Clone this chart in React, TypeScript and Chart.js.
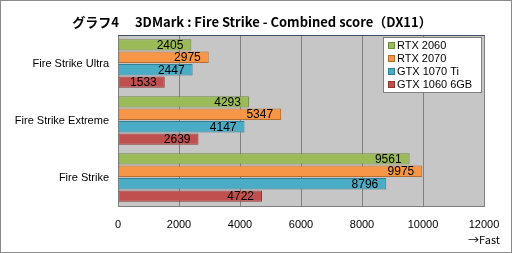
import React, { useEffect, useRef } from "react";
import { Chart, registerables } from "chart.js";

Chart.register(...registerables);

const categories = ["Fire Strike Ultra", "Fire Strike Extreme", "Fire Strike"];
const seriesNames = ["RTX 2060", "RTX 2070", "GTX 1070 Ti", "GTX 1060 6GB"];
const rtx2060 = [2405, 4293, 9561];
const rtx2070 = [2975, 5347, 9975];
const gtx1070ti = [2447, 4147, 8796];
const gtx1060 = [1533, 2639, 4722];
const xTicks = [0, 2000, 4000, 6000, 8000, 10000, 12000];
const titleText = "グラフ4\u3000 3DMark : Fire Strike - Combined score（DX11）";
const axisNote = "→Fast";

const fills = ["#9bbb59", "#f79646", "#4bacc6", "#c0504d"];
const borders = ["#71893f", "#b66d31", "#357d91", "#8c3836"];

const FONT = "'Liberation Sans', Arial, sans-serif";

export default function App() {
  const ref = useRef<HTMLCanvasElement>(null);
  useEffect(() => {
    const canvas = ref.current!;
    const values = [rtx2060, rtx2070, gtx1070ti, gtx1060];
    const frame = {
      id: "frame",
      beforeDraw(chart: any) {
        const { ctx, chartArea: a } = chart;
        ctx.save();
        ctx.fillStyle = "#ffffff";
        ctx.fillRect(0, 0, chart.width, chart.height);
        ctx.fillStyle = "#c6c6c6";
        ctx.fillRect(a.left, a.top, a.right - a.left, a.bottom - a.top);
        ctx.restore();
      },
      afterDraw(chart: any) {
        const { ctx, chartArea: a } = chart;
        ctx.save();
        ctx.strokeStyle = "#8a8a8a";
        ctx.lineWidth = 1;
        ctx.strokeRect(0.5, 0.5, chart.width - 1, chart.height - 1);
        ctx.strokeStyle = "#808080";
        ctx.strokeRect(Math.round(a.left) + 0.5, Math.round(a.top) + 0.5, Math.round(a.right - a.left), Math.round(a.bottom - a.top));
        ctx.strokeStyle = "#3f5266";
        ctx.beginPath();
        ctx.moveTo(Math.round(a.left), Math.round(a.top) + 0.5);
        ctx.lineTo(Math.round(a.right) + 1, Math.round(a.top) + 0.5);
        ctx.stroke();
        ctx.fillStyle = "#000";
        ctx.font = "bold 13px 'Noto Sans CJK JP', sans-serif";
        ctx.textAlign = "center";
        ctx.textBaseline = "middle";
        ctx.fillText(titleText, 252, 22);
        ctx.font = "11px 'Noto Sans CJK JP', sans-serif";
        ctx.textAlign = "right";
        ctx.fillText(axisNote, 500, 240);
        ctx.font = "12px " + FONT;
        ctx.textAlign = "right";
        ctx.textBaseline = "middle";
        chart.data.datasets.forEach((ds: any, i: number) => {
          const meta = chart.getDatasetMeta(i);
          meta.data.forEach((bar: any, j: number) => {
            ctx.fillText(String(ds.data[j]), bar.x - 8, bar.y + 0.5);
          });
        });
        const lx = 383, ly = 37, lw = 98, lh = 55;
        ctx.fillStyle = "#ffffff";
        ctx.fillRect(lx, ly, lw, lh);
        ctx.strokeStyle = "#808080";
        ctx.strokeRect(lx + 0.5, ly + 0.5, lw, lh);
        ctx.textAlign = "left";
        ctx.font = "11px " + FONT;
        seriesNames.forEach((name, i) => {
          const y = ly + 7.5 + i * 13.3;
          ctx.fillStyle = fills[i];
          ctx.fillRect(lx + 5, Math.round(y) - 3, 7, 7);
          ctx.strokeStyle = borders[i];
          ctx.strokeRect(lx + 5.5, Math.round(y) - 2.5, 6, 6);
          ctx.fillStyle = "#000";
          ctx.fillText(name, lx + 14, y + 1);
        });
        ctx.restore();
      },
    };
    const chart = new Chart(canvas, {
      type: "bar",
      data: {
        labels: categories,
        datasets: seriesNames.map((name, i) => ({
          label: name,
          data: values[i],
          backgroundColor: fills[i],
          borderColor: borders[i],
          borderWidth: 1,
          borderSkipped: false,
          barPercentage: 0.92,
          categoryPercentage: 0.87,
        })),
      },
      options: {
        indexAxis: "y",
        animation: false,
        responsive: false,
        maintainAspectRatio: false,
        layout: { padding: { top: 35, right: 28, left: 0, bottom: 0 } },
        plugins: {
          legend: { display: false },
          title: { display: false },
          tooltip: { enabled: false },
        },
        scales: {
          x: {
            min: 0,
            max: 12000,
            afterFit: (s: any) => { s.height = 47; },
            afterBuildTicks: (s: any) => { s.ticks = xTicks.map((v) => ({ value: v })); },
            grid: { color: "#808080", drawTicks: false, drawOnChartArea: true },
            border: { display: false },
            ticks: {
              color: "#000",
              font: { family: FONT, size: 11 },
              padding: 12,
              maxRotation: 0,
              callback: (v: any) => String(v),
            },
          },
          y: {
            afterFit: (s: any) => { s.width = 118; },
            grid: { display: false, drawTicks: false },
            border: { display: false },
            ticks: { color: "#000", font: { family: FONT, size: 11 }, padding: 9 },
          },
        },
      },
      plugins: [frame],
    } as any);
    return () => chart.destroy();
  }, []);
  return (
    <div style={{ position: "fixed", left: 0, top: 0, width: 512, height: 253 }}>
      <canvas ref={ref} width={512} height={253} style={{ width: 512, height: 253 }} />
    </div>
  );
}
